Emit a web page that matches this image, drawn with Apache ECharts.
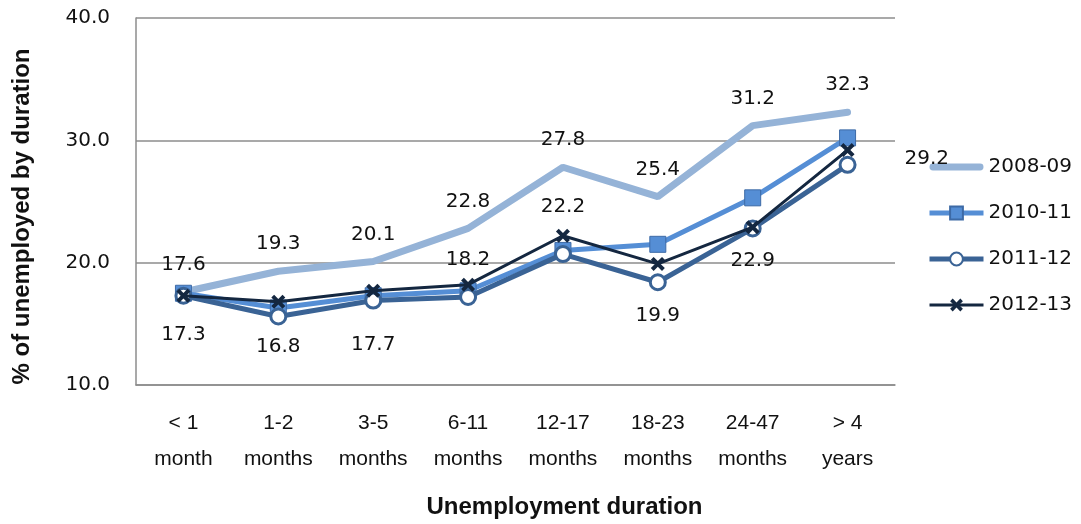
<!DOCTYPE html>
<html>
<head>
<meta charset="utf-8">
<script src="https://cdn.jsdelivr.net/npm/echarts@6/dist/echarts.min.js"></script>
<style>
  html, body { margin: 0; padding: 0; background: #fff; }
  #chart { width: 1081px; height: 524px; }
</style>
</head>
<body>
<div id="chart"></div>
<script>
// data
var categories = ['< 1\nmonth', '1-2\nmonths', '3-5\nmonths', '6-11\nmonths',
  '12-17\nmonths', '18-23\nmonths', '24-47\nmonths', '> 4\nyears'];
var seriesNames = ['2008-09', '2010-11', '2011-12', '2012-13'];
var v0809 = [17.6, 19.3, 20.1, 22.8, 27.8, 25.4, 31.2, 32.3];
var v1011 = [17.5, 16.3, 17.3, 17.7, 21.0, 21.5, 25.3, 30.2];
var v1112 = [17.3, 15.6, 16.9, 17.2, 20.7, 18.4, 22.8, 28.0];
var v1213 = [17.3, 16.8, 17.7, 18.2, 22.2, 19.9, 22.9, 29.2];
var yTicks = [10, 20, 30, 40];

// where each 2012-13 label sits (style only)
var pos1213 = ['bottom', 'bottom', 'bottom', 'top', 'top', 'bottom', 'bottom', 'right'];
var dist1213 = [22, 28, 37, 8, 12, 35, 17, 50];
var offs1213 = [0, 0, 0, 0, 0, 0, 0, 9];

var font = 'Liberation Sans';
var labelFont = 'DejaVu Sans';
var crossPath = 'path://M2,0L5,3L8,0L10,2L7,5L10,8L8,10L5,7L2,10L0,8L3,5L0,2Z';
var barIcon = 'path://M3,0H51A3,3,0,0,1,51,7H3A3,3,0,0,1,3,0Z';

var chart = echarts.init(document.getElementById('chart'));

var option = {
  backgroundColor: '#fff',
  animation: false,
  textStyle: { fontFamily: font },
  grid: {
    left: 136,
    right: 186,
    top: 18,
    bottom: 136
  },
  legend: {
    orient: 'vertical',
    left: 922,
    top: 152,
    itemGap: 26,
    itemWidth: 54,
    itemHeight: 16,
    textStyle: { fontSize: 20, color: '#111', fontFamily: labelFont },
    data: [
      { name: '2008-09', icon: barIcon },
      { name: '2010-11', lineStyle: { width: 5, color: '#558ed5' } },
      { name: '2011-12', lineStyle: { width: 5, color: '#3a6395' } },
      { name: '2012-13', lineStyle: { width: 3, color: '#142740' } }
    ]
  },
  xAxis: {
    type: 'category',
    data: categories,
    boundaryGap: true,
    name: 'Unemployment duration',
    nameLocation: 'middle',
    nameGap: 110,
    nameTextStyle: {
      fontSize: 24, fontWeight: 'bold', color: '#111', fontFamily: font,
      padding: [0, 0, 0, 98]
    },
    axisLine: { lineStyle: { color: '#8c8c8c', width: 1.5 } },
    axisTick: { show: false },
    axisLabel: {
      interval: 0,
      fontSize: 21,
      color: '#111',
      lineHeight: 36,
      margin: 20
    }
  },
  yAxis: {
    type: 'value',
    min: yTicks[0],
    max: yTicks[yTicks.length - 1],
    interval: 10,
    name: '% of unemployed by duration',
    nameLocation: 'middle',
    nameRotate: 90,
    nameGap: 102,
    nameTextStyle: {
      fontSize: 24, fontWeight: 'bold', color: '#111', fontFamily: font,
      padding: [0, 30, 0, 0]
    },
    axisLine: { show: true, lineStyle: { color: '#8c8c8c', width: 1.5 } },
    axisTick: { show: false },
    axisLabel: {
      fontSize: 20,
      fontFamily: labelFont,
      color: '#111',
      margin: 26,
      formatter: function (v) { return v.toFixed(1); }
    },
    splitLine: { lineStyle: { color: '#8c8c8c', width: 1.5 } }
  },
  series: [
    {
      name: '2008-09',
      type: 'line',
      data: v0809,
      symbol: 'circle',
      symbolSize: 2,
      lineStyle: { color: '#95b3d7', width: 7, cap: 'round' },
      itemStyle: { color: '#95b3d7' },
      label: {
        show: true,
        position: 'top',
        distance: 16,
        fontSize: 20,
        fontFamily: labelFont,
        color: '#111',
        formatter: function (p) { return p.value.toFixed(1); }
      },
      z: 1
    },
    {
      name: '2010-11',
      type: 'line',
      data: v1011,
      symbol: 'rect',
      symbolSize: 16,
      lineStyle: { color: '#558ed5', width: 5 },
      itemStyle: { color: '#558ed5', borderColor: '#3d6aa6', borderWidth: 1 },
      z: 2
    },
    {
      name: '2011-12',
      type: 'line',
      data: v1112,
      symbol: 'circle',
      symbolSize: 15,
      showAllSymbol: true,
      lineStyle: { color: '#3a6395', width: 5 },
      itemStyle: { color: '#fff', borderColor: '#3a6395', borderWidth: 3 },
      z: 3
    },
    {
      name: '2012-13',
      type: 'line',
      data: v1213.map(function (v, i) {
        return {
          value: v,
          label: { position: pos1213[i], distance: dist1213[i], offset: [0, offs1213[i]] }
        };
      }),
      symbol: crossPath,
      symbolSize: 14,
      lineStyle: { color: '#142740', width: 3 },
      itemStyle: { color: '#142740' },
      label: {
        show: true,
        fontSize: 20,
        fontFamily: labelFont,
        color: '#111',
        formatter: function (p) { return p.value.toFixed(1); }
      },
      z: 4
    }
  ]
};

chart.setOption(option);
</script>
</body>
</html>
